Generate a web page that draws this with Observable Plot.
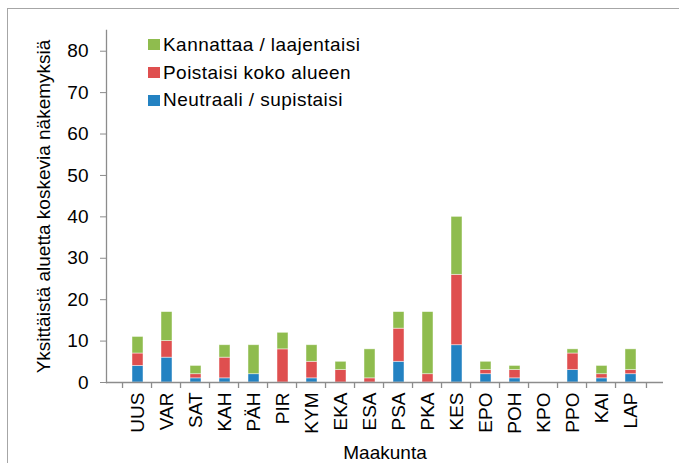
<!DOCTYPE html>
<html>
<head>
<meta charset="utf-8">
<script src="https://cdn.jsdelivr.net/npm/d3@7"></script>
<script src="https://cdn.jsdelivr.net/npm/@observablehq/plot@0.6"></script>
<style>
  body { margin: 0; background: #fff; }
  #wrap { position: relative; width: 679px; height: 463px; overflow: hidden; font-family: "Liberation Sans", Arial, sans-serif; }
  #border { position: absolute; left: 7px; top: 8px; width: 720px; height: 520px; border: 1.5px solid #a6a6a6; box-sizing: border-box; }
  #chart { position: absolute; left: 0; top: 0; }
  #legend { position: absolute; left: 148px; top: 31px; font-size: 19px; letter-spacing: 0.45px; color: #000; }
  .item { display: flex; align-items: center; height: 27.7px; }
  .sw { width: 12px; height: 11px; margin-right: 3px; }
</style>
</head>
<body>
<div id="wrap">
  <div id="border"></div>
  <div id="chart"></div>
  <div id="legend"></div>
</div>
<script>
const categories = ["UUS","VAR","SAT","KAH","PÄH","PIR","KYM","EKA","ESA","PSA","PKA","KES","EPO","POH","KPO","PPO","KAI","LAP"];
const neutraali = [4,6,1,1,2,0,1,0,0,5,0,9,2,1,0,3,1,2];
const poistaisi = [3,4,1,5,0,8,4,3,1,8,2,17,1,2,0,4,1,1];
const kannattaa = [4,7,2,3,7,4,4,2,7,4,15,14,2,1,0,1,2,5];
const seriesNames = ["Neutraali / supistaisi", "Poistaisi koko alueen", "Kannattaa / laajentaisi"];
const seriesColors = ["#2382C2", "#DF4F4F", "#8FBC4E"];
const yTicks = [0,10,20,30,40,50,60,70,80];
const yLabel = "Yksittäistä aluetta koskevia näkemyksiä";
const xLabel = "Maakunta";

const seriesValues = [neutraali, poistaisi, kannattaa];
const data = seriesNames.flatMap((s, k) => categories.map((c, i) => ({cat: c, serie: s, value: seriesValues[k][i]})));

const W = 679, H = 463, ML = 106, MR = 16, MT = 30, MB = 81;
const step = (W - ML - MR) / categories.length;
const lastCat = [categories[categories.length - 1]];

const chart = Plot.plot({
  width: W, height: H,
  marginLeft: ML, marginRight: MR, marginTop: MT, marginBottom: MB,
  style: {fontFamily: "'Liberation Sans', Arial, sans-serif", fontSize: "19px", color: "#000", background: "transparent"},
  x: {domain: categories, padding: 0.61, align: 0.5},
  y: {domain: [0, 85]},
  color: {domain: seriesNames, range: seriesColors},
  marks: [
    Plot.barY(data, {x: "cat", y: "value", fill: "serie", stroke: "white", strokeWidth: 0.75, strokeOpacity: 0.6}),
    Plot.ruleY([0], {stroke: "#8c8c8c", strokeWidth: 1.3}),
    Plot.ruleX(categories, {x: d => d, dx: -step / 2, y1: 0, y2: 0, insetBottom: -6, stroke: "#8c8c8c", strokeWidth: 1.3}),
    Plot.ruleX(lastCat, {x: d => d, dx: step / 2, y1: 0, y2: 0, insetBottom: -6, stroke: "#8c8c8c", strokeWidth: 1.3}),
    Plot.frame({anchor: "left", stroke: "#8c8c8c", strokeWidth: 1.3}),
    Plot.axisY({ticks: yTicks, tickSize: 6, tickPadding: 12, stroke: "#8c8c8c", label: yLabel, labelAnchor: "center", labelArrow: "none", labelOffset: 70, fill: "#000"}),
    Plot.axisX({tickSize: 0, tickPadding: 10, tickRotate: -90, label: xLabel, labelAnchor: "center", labelArrow: "none", labelOffset: 76, fill: "#000"})
  ]
});
document.getElementById("chart").appendChild(chart);

const legend = document.getElementById("legend");
for (let k = seriesNames.length - 1; k >= 0; k--) {
  const it = document.createElement("div");
  it.className = "item";
  const sw = document.createElement("span");
  sw.className = "sw";
  sw.style.background = seriesColors[k];
  const tx = document.createElement("span");
  tx.textContent = seriesNames[k];
  it.appendChild(sw); it.appendChild(tx);
  legend.appendChild(it);
}
</script>
</body>
</html>
